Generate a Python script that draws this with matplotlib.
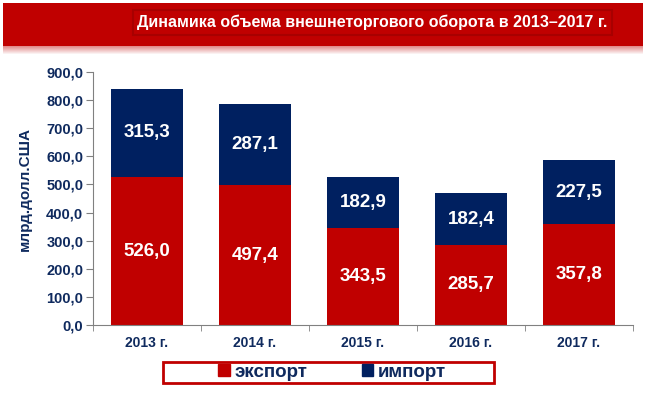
import matplotlib
matplotlib.use("Agg")
import matplotlib.pyplot as plt
from matplotlib.patches import Rectangle, Patch
from matplotlib.ticker import FuncFormatter, MultipleLocator
import numpy as np

plt.rcParams["font.family"] = ["Liberation Sans", "DejaVu Sans"]

years = ["2013 г.", "2014 г.", "2015 г.", "2016 г.", "2017 г."]
export = [526.0, 497.4, 343.5, 285.7, 357.8]
imports = [315.3, 287.1, 182.9, 182.4, 227.5]

RED = "#C00000"
NAVY = "#002060"
TXT = "#0F2A5E"
W, H = 646, 397

fig = plt.figure(figsize=(W / 100, H / 100), dpi=100)


def fx(px):
    return px / W


def fy(py):
    return 1 - py / H


# header band with a soft shadow under it
fig.patches.append(Rectangle((fx(3), fy(46)), fx(640), 43 / H, transform=fig.transFigure,
                             facecolor=RED, edgecolor="none", zorder=0))
for i in range(8):
    a = 0.45 * (1 - i / 8)
    fig.patches.append(Rectangle((fx(3), fy(47 + i)), fx(640), 1 / H, transform=fig.transFigure,
                                 facecolor=RED, alpha=a, edgecolor="none", zorder=0))
fig.patches.append(Rectangle((fx(133), fy(35)), fx(479), 25 / H, transform=fig.transFigure,
                             facecolor=RED, edgecolor="#A80000", lw=1.5, zorder=1))
fig.text(fx(372), fy(22.5), "Динамика объема внешнеторгового оборота в 2013–2017 г.",
         color="white", fontsize=11.5, fontweight="bold", ha="center", va="center")

ax = fig.add_axes([fx(93), fy(325), fx(540), 253 / H])
x = np.arange(len(years))
b1 = ax.bar(x, export, width=0.67, color=RED, zorder=2)
b2 = ax.bar(x, imports, width=0.67, bottom=export, color=NAVY, zorder=2)

for i in range(len(years)):
    ax.text(x[i], export[i] / 2, f"{export[i]:.1f}".replace(".", ","), color="white",
            fontsize=13.5, fontweight="bold", ha="center", va="center", zorder=3)
    ax.text(x[i], export[i] + imports[i] / 2, f"{imports[i]:.1f}".replace(".", ","),
            color="white", fontsize=13.5, fontweight="bold", ha="center", va="center", zorder=3)

ax.set_xlim(-0.5, len(years) - 0.5)
ax.set_ylim(0, 900)
ax.yaxis.set_major_locator(MultipleLocator(100))
ax.yaxis.set_major_formatter(FuncFormatter(lambda v, p: f"{v:.1f}".replace(".", ",")))
ax.set_xticks(x)
ax.set_xticklabels(years)
ax.set_xticks(np.arange(-0.5, len(years)), minor=True)
ax.tick_params(axis="x", which="major", length=0, pad=8, labelsize=10, labelcolor=TXT)
ax.tick_params(axis="x", which="minor", length=4, color="#808080")
ax.tick_params(axis="y", length=5, color="#808080", pad=2, labelsize=10.5, labelcolor=TXT)
for lab in ax.get_xticklabels() + ax.get_yticklabels():
    lab.set_fontweight("bold")
for s in ["top", "right"]:
    ax.spines[s].set_visible(False)
for s in ["left", "bottom"]:
    ax.spines[s].set_color("#808080")

fig.text(fx(25), fy(189), "млрд.долл.США", rotation=90, color=TXT, fontsize=11,
         fontweight="bold", ha="center", va="center")

# legend with its own frame
fig.patches.append(Rectangle((fx(163), fy(383)), fx(331), 21 / H, transform=fig.transFigure,
                             facecolor="white", edgecolor=RED, lw=2, zorder=1))
handles = [Patch(color=RED, label="экспорт"), Patch(color=NAVY, label="импорт")]
leg = fig.legend(handles=handles, loc="center", bbox_to_anchor=(fx(332), fy(372.5)), ncol=2,
                 frameon=False, fontsize=13.5, handlelength=0.6, handleheight=0.6,
                 handletextpad=0.25, columnspacing=2.9, borderpad=0)
for t in leg.get_texts():
    t.set_color(TXT)
    t.set_fontweight("bold")

fig.savefig("out.png", dpi=100)
